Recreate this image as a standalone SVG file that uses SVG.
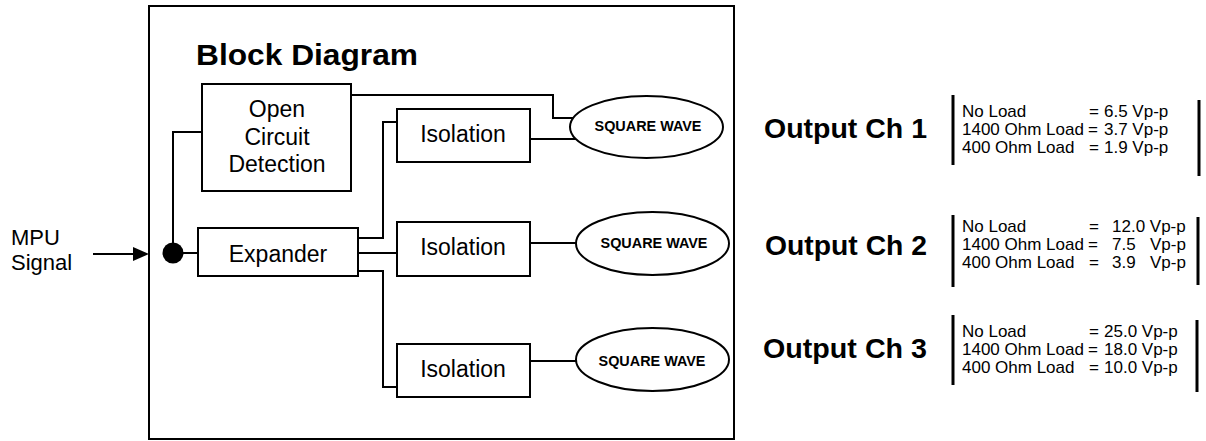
<svg xmlns="http://www.w3.org/2000/svg" width="1206" height="441" viewBox="0 0 1206 441">
<style>
text{font-family:"Liberation Sans",Arial,sans-serif;fill:#000}
.box{fill:#fff;stroke:#000;stroke-width:2}
.wire{fill:none;stroke:#000;stroke-width:2}
.lbl{font-size:23px;text-anchor:middle}
.sq{font-size:14.4px;font-weight:bold;text-anchor:middle}
.out{font-size:28px;font-weight:bold}
.dat{font-size:17px}
.bar{stroke:#000;stroke-width:3}
</style>
<rect id="frame" x="149" y="6" width="585" height="433" fill="none" stroke="#000" stroke-width="2"/>
<text x="196" y="65" font-size="30" font-weight="bold" textLength="222" lengthAdjust="spacingAndGlyphs">Block Diagram</text>
<g id="mpu">
<text x="11" y="245" font-size="22">MPU</text>
<text x="11" y="270" font-size="22">Signal</text>
</g>
<g id="connectors">
<line class="wire" x1="93" y1="254" x2="136" y2="254"/>
<polygon points="133,247 149,254 133,261" fill="#000"/>
<line class="wire" x1="173" y1="253" x2="198" y2="253"/>
<polyline class="wire" points="173,253 173,132 202,132"/>
<polyline class="wire" points="351,95 553,95 553,118 573,118"/>
<polyline class="wire" points="358,238 383,238 383,122 397,122"/>
<line class="wire" x1="358" y1="253" x2="397" y2="253"/>
<polyline class="wire" points="358,271 383,271 383,387 397,387"/>
<line class="wire" x1="530" y1="139" x2="576" y2="139"/>
<line class="wire" x1="530" y1="243" x2="576" y2="243"/>
<line class="wire" x1="530" y1="361" x2="576" y2="361"/>
<circle cx="173" cy="253" r="10.5" fill="#000"/>
</g>
<g id="ocd">
<rect class="box" x="202" y="84" width="149" height="107"/>
<text class="lbl" x="277" y="117">Open</text>
<text class="lbl" x="277" y="145">Circuit</text>
<text class="lbl" x="277" y="172">Detection</text>
</g>
<g id="expander">
<rect class="box" x="198" y="228" width="160" height="48"/>
<text class="lbl" x="278" y="262">Expander</text>
</g>
<g id="iso1">
<rect class="box" x="397" y="109" width="133" height="53"/>
<text class="lbl" x="463" y="142">Isolation</text>
</g>
<g id="iso2">
<rect class="box" x="397" y="222" width="133" height="54"/>
<text class="lbl" x="463" y="255">Isolation</text>
</g>
<g id="iso3">
<rect class="box" x="397" y="344" width="133" height="53"/>
<text class="lbl" x="463" y="377">Isolation</text>
</g>
<g id="sq1">
<ellipse class="box" cx="646.5" cy="127" rx="76.5" ry="31"/>
<text class="sq" x="648" y="131">SQUARE WAVE</text>
</g>
<g id="sq2">
<ellipse class="box" cx="652.5" cy="243.5" rx="76.5" ry="31.5"/>
<text class="sq" x="654" y="248">SQUARE WAVE</text>
</g>
<g id="sq3">
<ellipse class="box" cx="652.5" cy="359.5" rx="76.5" ry="31.5"/>
<text class="sq" x="652" y="366">SQUARE WAVE</text>
</g>
<g id="ch1">
<text class="out" x="764" y="138" textLength="163" lengthAdjust="spacingAndGlyphs">Output Ch 1</text>
<line class="bar" x1="953" y1="95" x2="953" y2="165"/>
<line class="bar" x1="1199" y1="100" x2="1199" y2="176"/>
<text class="dat" y="117"><tspan x="962">No Load</tspan><tspan x="1089">=</tspan><tspan x="1104">6.5 Vp-p</tspan></text>
<text class="dat" y="135"><tspan x="962">1400 Ohm Load</tspan><tspan x="1088">=</tspan><tspan x="1104">3.7 Vp-p</tspan></text>
<text class="dat" y="153"><tspan x="962">400 Ohm Load</tspan><tspan x="1089">=</tspan><tspan x="1104">1.9 Vp-p</tspan></text>
</g>
<g id="ch2">
<text class="out" x="765" y="255" textLength="162" lengthAdjust="spacingAndGlyphs">Output Ch 2</text>
<line class="bar" x1="953" y1="215" x2="953" y2="287"/>
<line class="bar" x1="1198" y1="217" x2="1198" y2="285"/>
<text class="dat" y="232"><tspan x="962">No Load</tspan><tspan x="1089">=</tspan><tspan x="1112">12.0 Vp-p</tspan></text>
<text class="dat" y="250"><tspan x="962">1400 Ohm Load</tspan><tspan x="1088">=</tspan><tspan x="1112">7.5</tspan><tspan x="1150">Vp-p</tspan></text>
<text class="dat" y="268"><tspan x="962">400 Ohm Load</tspan><tspan x="1089">=</tspan><tspan x="1112">3.9</tspan><tspan x="1150">Vp-p</tspan></text>
</g>
<g id="ch3">
<text class="out" x="763" y="358" textLength="164" lengthAdjust="spacingAndGlyphs">Output Ch 3</text>
<line class="bar" x1="953" y1="315" x2="953" y2="385"/>
<line class="bar" x1="1197" y1="320" x2="1197" y2="392"/>
<text class="dat" y="337"><tspan x="962">No Load</tspan><tspan x="1089">=</tspan><tspan x="1104">25.0 Vp-p</tspan></text>
<text class="dat" y="355"><tspan x="962">1400 Ohm Load</tspan><tspan x="1088">=</tspan><tspan x="1104">18.0 Vp-p</tspan></text>
<text class="dat" y="373"><tspan x="962">400 Ohm Load</tspan><tspan x="1089">=</tspan><tspan x="1104">10.0 Vp-p</tspan></text>
</g>
</svg>
